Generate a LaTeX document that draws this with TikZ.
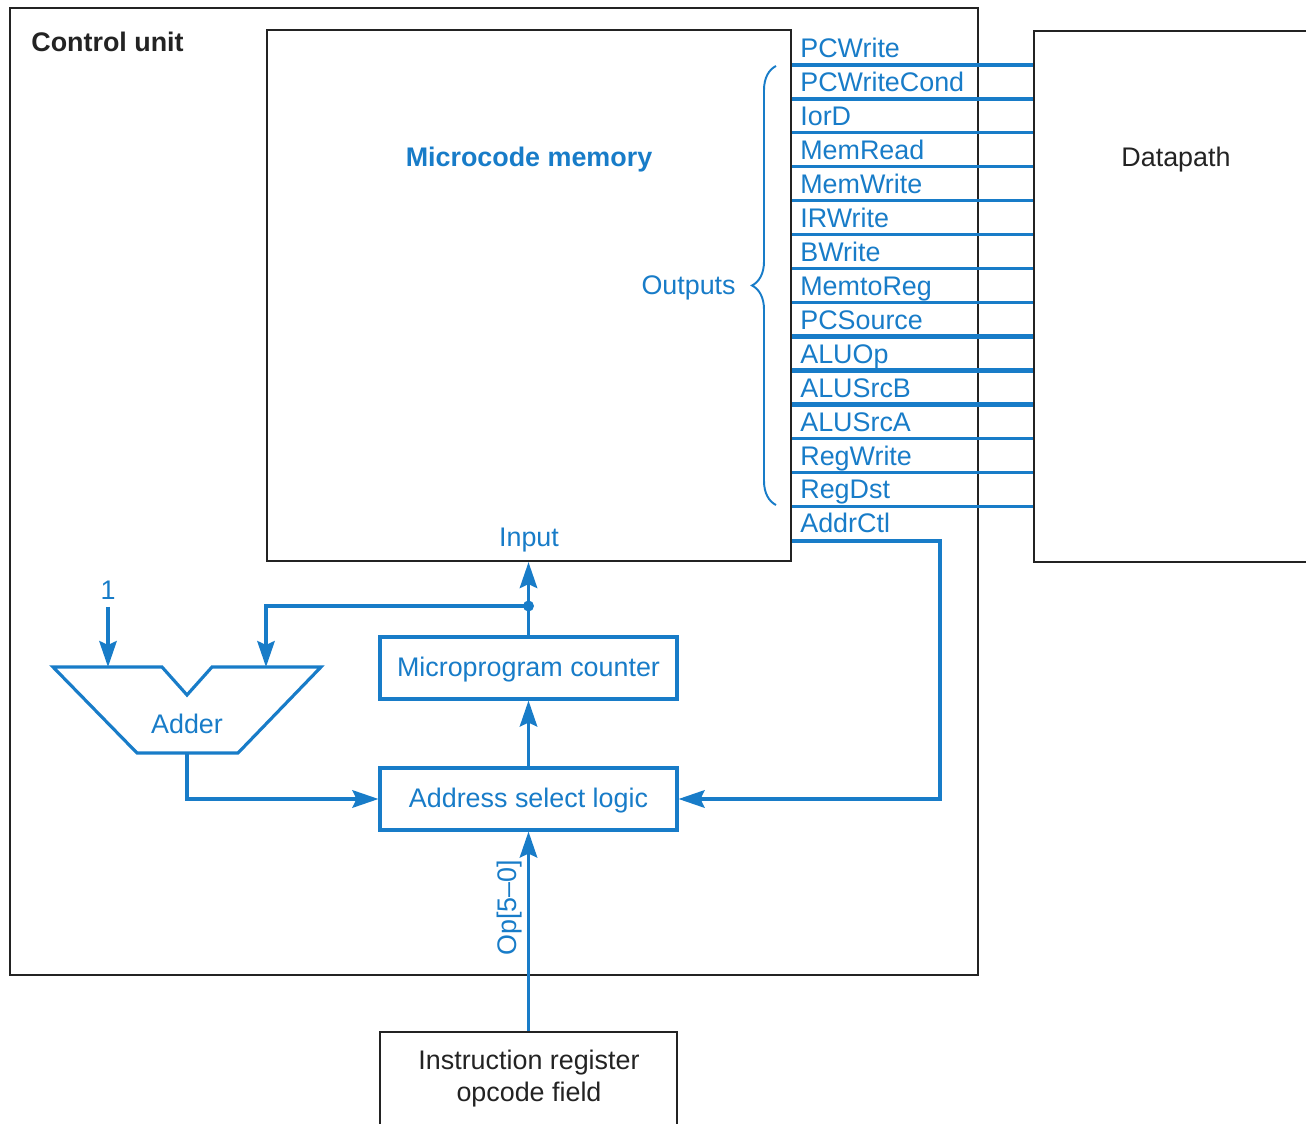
\documentclass[tikz,border=0pt]{standalone}
\usepackage{fontspec}
\setmainfont{Liberation Sans}
\usetikzlibrary{arrows.meta,decorations.pathreplacing}
\definecolor{mblue}{RGB}{24,124,200}
\definecolor{frame}{RGB}{35,35,35}
\begin{document}
\begin{tikzpicture}[x=0.02cm,y=-0.02cm,
  every node/.style={font=\fontsize{15.3}{18.2}\selectfont, inner sep=0pt},
  boldtext/.style={font=\fontsize{15.3}{18.2}\selectfont\bfseries},
  blk/.style={draw=frame, line width=1.35pt},
  bbox/.style={draw=mblue, line width=1.8pt, text=mblue,
               minimum width=5.94cm, minimum height=1.24cm},
  sig/.style={draw=mblue, line width=1.8pt},
  bus/.style={draw=mblue, line width=3.2pt},
  arr/.style={sig, -{Stealth[length=0.52cm,width=0.35cm,inset=0.08cm]}},
  lbl/.style={text=mblue},
]
\useasboundingbox (0,0) rectangle (1306,1124);
\clip (0,0) rectangle (1306,1124);

% control unit frame and its blocks
\node[blk, minimum width=19.36cm, minimum height=19.34cm] (cu) at (494,491.5) {};
\node[boldtext, anchor=west, text=frame] (cutitle) at (31,42) {Control unit};

\node[blk, minimum width=10.48cm, minimum height=10.62cm] (mem) at (529,295.5) {};
\node[lbl, boldtext] (memtitle) at (529,160) {Microcode memory};
\node[lbl] (inp) at (529,540) {Input};
\node[lbl, anchor=east] (outs) at (736,288) {Outputs};

\node[blk, minimum width=6cm, minimum height=10.62cm, anchor=north west] (dp) at (1033,30) {};
\node[text=frame] (dptext) at (1176,160) {Datapath};

\node[bbox] (mpc) at (528.5,668) {};
\node[lbl] (mpctext) at (528.5,670) {Microprogram counter};
\node[bbox] (asl) at (528.5,799) {};
\node[lbl] (asltext) at (528.5,801) {Address select logic};

\node[blk, minimum width=5.94cm, minimum height=2.4cm, anchor=north] (ir) at (528.5,1031) {};
\node[align=center, text=frame] (irtext) at (529,1079) {Instruction register\\opcode field};

% control output lines to the datapath
\foreach \i in {0,...,13} {
  \pgfmathsetmacro{\yy}{65+33.96*\i}
  \ifnum\i>7 \ifnum\i<11
    \draw[bus] (mem.east |- 0,\yy) -- (dp.west |- 0,\yy);
  \else
    \draw[sig] (mem.east |- 0,\yy) -- (dp.west |- 0,\yy);
  \fi \else
    \draw[sig] (mem.east |- 0,\yy) -- (dp.west |- 0,\yy);
  \fi
}
\foreach \t [count=\k from 0] in {PCWrite,PCWriteCond,IorD,MemRead,MemWrite,IRWrite,BWrite,MemtoReg,PCSource,ALUOp,ALUSrcB,ALUSrcA,RegWrite,RegDst,AddrCtl}
  \node[lbl, anchor=base west] (o\k) at (800,{57.5+33.96*\k}) {\t};

% brace grouping the outputs
\coordinate (brbot) at (776,505);
\coordinate (brtop) at (776,66);
\draw[draw=mblue, line width=1.1pt, decorate, decoration={brace, amplitude=0.48cm}] (brbot) -- (brtop);

% adder
\draw[sig, line join=miter] (53,667) -- (162,667) -- (187,695) -- (212,667) -- (321,667)
  -- (238,753) -- (137,753) -- cycle;
\node[lbl] (addlbl) at (187,724) {Adder};
\coordinate (addL) at (108,667);
\coordinate (addR) at (266,667);
\coordinate (addO) at (187,753);

\node[lbl] (one) at (108,590) {1};
\coordinate (onein) at (108,607);
\draw[arr] (onein) -- (addL);

% sequencing connectors
\coordinate (fb) at (528.5,606);
\draw[arr] (mpc.north) -- (mpc.north |- mem.south);
\fill[mblue] (fb) circle (5.5);
\draw[arr] (fb) -| (addR);
\draw[arr] (asl.north) -- (mpc.south);
\draw[arr] (ir.north) -- (asl.south);
\draw[arr] (addO) |- (asl.west);
\coordinate (acturn) at (940,541);
\draw[arr] (mem.east |- acturn) -- (acturn) |- (asl.east);

\node[lbl, rotate=90] (op) at (510,908) {Op[5–0]};
\end{tikzpicture}
\end{document}
